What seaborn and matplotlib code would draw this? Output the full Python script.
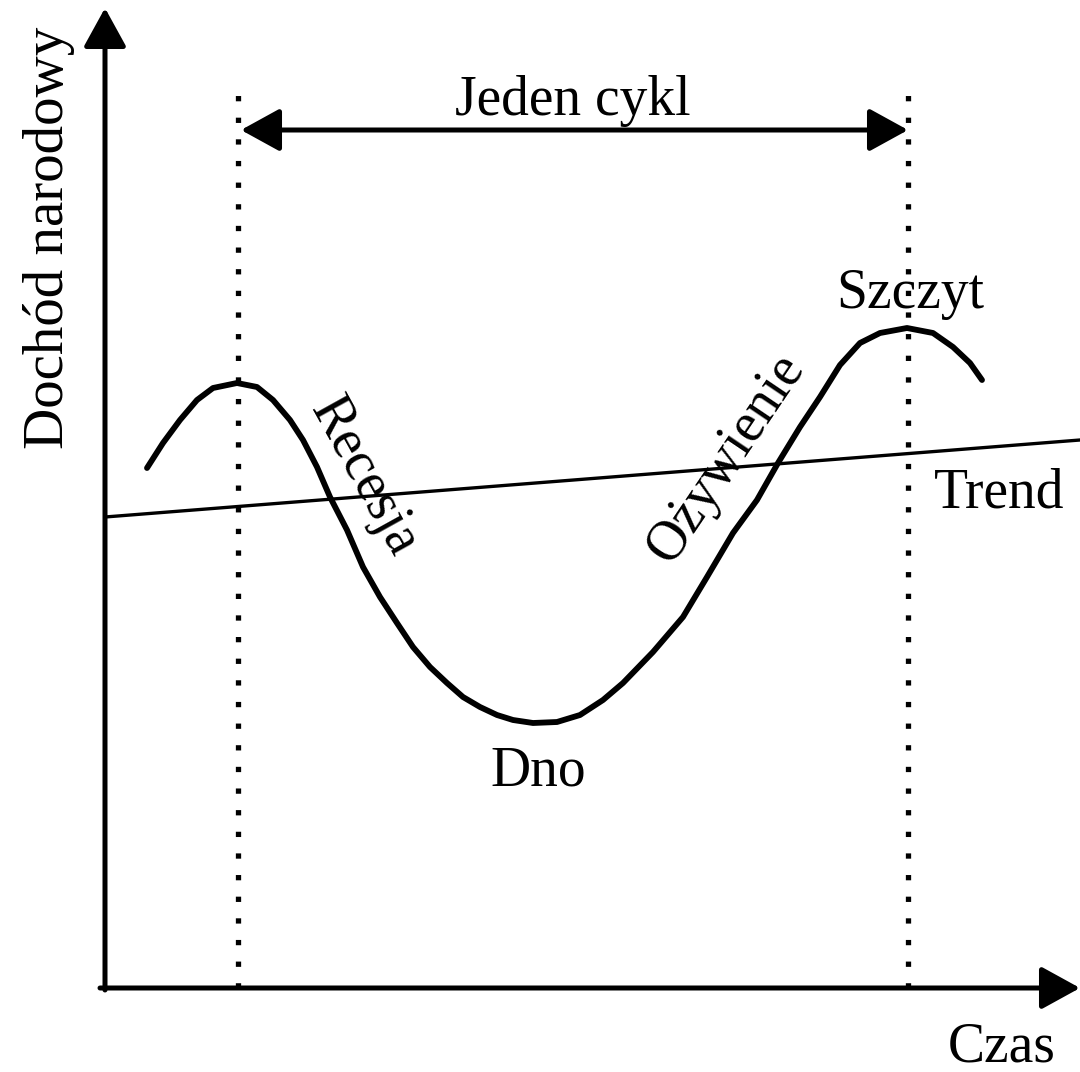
"""
Business cycle diagram: national income over time with trend line.
"""

import matplotlib

matplotlib.use("Agg")
import matplotlib.pyplot as plt
import seaborn as sns

sns.set_theme(style="white")
plt.rcParams["font.family"] = ["Liberation Serif", "DejaVu Serif"]
plt.rcParams["text.color"] = "black"

# cycle curve (time, national income)
cycle_t = [42, 58, 75, 92, 108, 132, 152, 168, 185, 198, 212, 225, 242, 258,
           275, 292, 308, 325, 342, 358, 375, 392, 408, 428, 452, 475, 498,
           518, 548, 578, 602, 628, 652, 673, 695, 715, 735, 755, 775, 802,
           828, 848, 865, 877]
cycle_y = [520, 545, 568, 588, 600, 605, 601, 588, 568, 548, 521, 491, 458, 421,
           391, 365, 341, 321, 305, 291, 281, 273, 268, 265, 266, 273, 288,
           305, 336, 371, 411, 455, 488, 525, 561, 591, 623, 645, 655, 660,
           655, 641, 625, 608]

trend_t = [0, 975]
trend_y = [471, 548]

cycle_start, cycle_end = 133, 803
x_axis_end, y_axis_end = 975, 980

labels = {
    "Jeden cykl": (468, 873),
    "Szczyt": (805, 680),
    "Trend": (894, 480),
    "Dno": (433, 203),
}

fig = plt.figure(figsize=(10.8, 10.72), dpi=100)
ax = fig.add_axes([0, 0, 1, 1])
ax.set_xlim(-105, 975)
ax.set_ylim(-84, 988)
ax.axis("off")

sns.lineplot(x=cycle_t, y=cycle_y, sort=False, color="black", lw=4.2, ax=ax,
             solid_joinstyle="round", solid_capstyle="round")
sns.lineplot(x=trend_t, y=trend_y, sort=False, color="black", lw=2.4, ax=ax)

# dotted verticals marking one cycle
for t in (cycle_start, cycle_end):
    ax.plot([t, t], [0, 900], color="black", lw=3.8, ls=(0, (1, 3.1)))

# axes arrows
head = "-|>,head_length=1.2,head_width=0.66"
ax.annotate("", xy=(x_axis_end, 0), xytext=(-5, 0),
            arrowprops=dict(arrowstyle=head, color="black", lw=3.6,
                            mutation_scale=20, shrinkA=0, shrinkB=0))
ax.annotate("", xy=(0, y_axis_end), xytext=(0, -2),
            arrowprops=dict(arrowstyle=head, color="black", lw=3.6,
                            mutation_scale=20, shrinkA=0, shrinkB=0))

# double arrow for one cycle
ax.annotate("", xy=(cycle_end, 858), xytext=(cycle_start + 3, 858),
            arrowprops=dict(arrowstyle="<|-|>,head_length=1.2,head_width=0.66",
                            color="black", lw=3.6, mutation_scale=20,
                            shrinkA=0, shrinkB=0))

for text, (t, y) in labels.items():
    ax.text(t, y, text, fontsize=40, ha="center", va="baseline")

ax.text(897, -60, "Czas", fontsize=40, ha="center", va="center")
ax.text(-56, 750, "Dochód narodowy", fontsize=41, ha="center", va="center",
        rotation=90)
ax.text(259, 511, "Recesja", fontsize=40, ha="center", va="center",
        rotation=-61, rotation_mode="anchor")
ax.text(621, 530, "Ożywienie", fontsize=40, ha="center", va="center",
        rotation=56, rotation_mode="anchor")

fig.savefig("out.png", dpi=100)
